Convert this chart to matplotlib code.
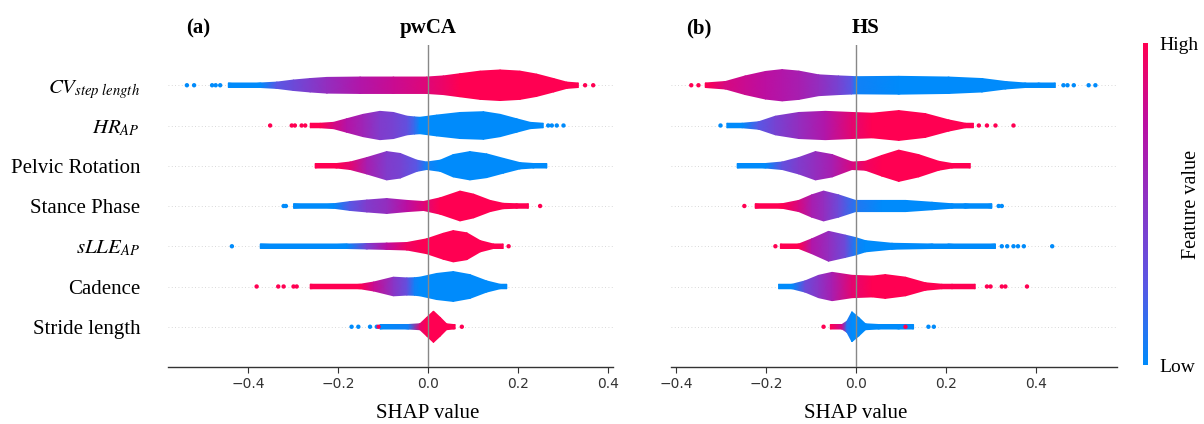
import numpy as np
import matplotlib
matplotlib.use('Agg')
import matplotlib.pyplot as plt
from matplotlib.colors import LinearSegmentedColormap
from matplotlib.transforms import blended_transform_factory

plt.rcParams['mathtext.fontset'] = 'stix'

## Data (features listed top to bottom)

features = [r'$CV_{step\ length}$', r'$HR_{AP}$', 'Pelvic Rotation', 'Stance Phase',
            r'$sLLE_{AP}$', 'Cadence', 'Stride length']

# panel (a) pwCA: violin knots (SHAP value, half width in rows, feature value 0..1)
pwca_x = [
    [-0.444, -0.373, -0.336, -0.299, -0.262, -0.225, -0.151, -0.077, -0.003, 0.034, 0.071, 0.116, 0.160, 0.204, 0.241, 0.279, 0.308, 0.334],
    [-0.262, -0.240, -0.210, -0.181, -0.144, -0.107, -0.077, -0.047, -0.030, -0.018, 0.019, 0.071, 0.123, 0.160, 0.197, 0.227, 0.256],
    [-0.251, -0.203, -0.173, -0.136, -0.092, -0.062, -0.025, -0.003, 0.027, 0.056, 0.093, 0.130, 0.167, 0.204, 0.234, 0.264],
    [-0.299, -0.210, -0.173, -0.136, -0.092, -0.047, -0.010, 0.027, 0.071, 0.101, 0.138, 0.167, 0.197, 0.223],
    [-0.373, -0.181, -0.136, -0.092, -0.047, -0.003, 0.034, 0.056, 0.086, 0.116, 0.145, 0.167],
    [-0.262, -0.151, -0.121, -0.077, -0.047, -0.030, -0.018, 0.019, 0.056, 0.093, 0.130, 0.160, 0.175],
    [-0.107, -0.044, -0.018, -0.003, 0.012, 0.027, 0.041, 0.056, 0.060],
]
pwca_hw = [
    [0.05, 0.05, 0.07, 0.116, 0.149, 0.174, 0.182, 0.182, 0.182, 0.207, 0.256, 0.314, 0.339, 0.314, 0.248, 0.149, 0.07, 0.05],
    [0.05, 0.05, 0.07, 0.149, 0.248, 0.314, 0.289, 0.207, 0.19, 0.182, 0.231, 0.289, 0.306, 0.248, 0.149, 0.07, 0.05],
    [0.05, 0.05, 0.083, 0.182, 0.314, 0.273, 0.124, 0.083, 0.124, 0.248, 0.314, 0.264, 0.165, 0.07, 0.05, 0.05],
    [0.05, 0.05, 0.099, 0.132, 0.165, 0.124, 0.099, 0.182, 0.331, 0.264, 0.124, 0.06, 0.05, 0.05],
    [0.05, 0.05, 0.06, 0.07, 0.083, 0.165, 0.289, 0.347, 0.298, 0.124, 0.05, 0.05],
    [0.05, 0.05, 0.099, 0.207, 0.19, 0.195, 0.207, 0.289, 0.331, 0.264, 0.124, 0.05, 0.05],
    [0.05, 0.05, 0.066, 0.207, 0.347, 0.207, 0.066, 0.05, 0.05],
]
pwca_fv = [
    [0, 0, 0.25, 0.35, 0.45, 0.55, 0.7, 0.8, 0.88, 0.93, 1, 1, 1, 1, 1, 1, 1, 1],
    [1, 1, 0.85, 0.72, 0.6, 0.45, 0.4, 0.3, 0.15, 0, 0, 0, 0, 0, 0, 0, 0],
    [1, 1, 0.9, 0.65, 0.45, 0.4, 0.25, 0.05, 0, 0, 0, 0, 0, 0, 0, 0],
    [0, 0, 0.25, 0.45, 0.55, 0.75, 0.88, 1, 1, 1, 1, 1, 1, 1],
    [0, 0, 0.4, 0.75, 0.95, 1, 1, 1, 1, 1, 1, 1],
    [1, 1, 0.8, 0.5, 0.3, 0.05, 0, 0, 0, 0, 0, 0, 0],
    [0, 0.05, 0.9, 1, 1, 1, 1, 1, 1],
]
pwca_dots_x = [
    [-0.536, -0.52, -0.48, -0.472, -0.462, 0.349, 0.367],
    [-0.351, -0.303, -0.296, -0.281, -0.273, 0.267, 0.275, 0.286, 0.301],
    [],
    [-0.321, -0.316, 0.249],
    [-0.436, 0.179],
    [-0.381, -0.333, -0.321, -0.299, -0.292],
    [-0.17, -0.155, -0.129, -0.114, -0.11, 0.075],
]
pwca_dots_fv = [
    [0, 0, 0, 0, 0, 1, 1],
    [1, 1, 1, 1, 1, 0, 0, 0, 0],
    [],
    [0, 0, 1],
    [0, 1],
    [1, 1, 1, 1, 1],
    [0, 0, 0, 0, 1, 1],
]

# panel (b) HS
hs_x = [
    [-0.335, -0.29, -0.246, -0.201, -0.164, -0.127, -0.083, -0.039, -0.01, 0.0, 0.095, 0.206, 0.28, 0.332, 0.376, 0.406, 0.443],
    [-0.287, -0.253, -0.216, -0.179, -0.127, -0.068, -0.009, 0.036, 0.095, 0.154, 0.206, 0.243, 0.261],
    [-0.264, -0.201, -0.164, -0.127, -0.09, -0.053, -0.009, 0.021, 0.058, 0.095, 0.139, 0.184, 0.213, 0.254],
    [-0.224, -0.164, -0.127, -0.098, -0.072, -0.039, -0.001, 0.058, 0.11, 0.169, 0.213, 0.243, 0.302],
    [-0.168, -0.127, -0.098, -0.061, -0.024, 0.0, 0.021, 0.08, 0.169, 0.206, 0.31],
    [-0.172, -0.142, -0.113, -0.083, -0.053, -0.009, 0.036, 0.065, 0.11, 0.154, 0.191, 0.213, 0.265],
    [-0.057, -0.031, -0.02, -0.009, 0.006, 0.021, 0.05, 0.095, 0.128],
]
hs_hw = [
    [0.05, 0.083, 0.207, 0.306, 0.347, 0.314, 0.231, 0.207, 0.195, 0.19, 0.198, 0.182, 0.149, 0.083, 0.05, 0.05, 0.05],
    [0.05, 0.05, 0.083, 0.207, 0.289, 0.314, 0.289, 0.273, 0.331, 0.264, 0.124, 0.05, 0.05],
    [0.05, 0.05, 0.083, 0.182, 0.314, 0.248, 0.083, 0.099, 0.231, 0.347, 0.248, 0.099, 0.05, 0.05],
    [0.05, 0.05, 0.124, 0.248, 0.331, 0.248, 0.124, 0.124, 0.124, 0.083, 0.05, 0.05, 0.05],
    [0.05, 0.05, 0.165, 0.331, 0.248, 0.19, 0.124, 0.066, 0.05, 0.05, 0.05],
    [0.05, 0.05, 0.124, 0.248, 0.314, 0.248, 0.231, 0.264, 0.207, 0.083, 0.05, 0.05, 0.05],
    [0.05, 0.05, 0.124, 0.331, 0.207, 0.066, 0.05, 0.05, 0.05],
]
hs_fv = [
    [1, 0.85, 0.8, 0.75, 0.7, 0.65, 0.55, 0.4, 0.25, 0.05, 0, 0, 0, 0, 0, 0, 0],
    [0, 0, 0.25, 0.4, 0.55, 0.7, 0.9, 1, 1, 1, 1, 1, 1],
    [0, 0, 0.3, 0.45, 0.55, 0.65, 0.85, 0.95, 1, 1, 1, 1, 1, 1],
    [1, 1, 0.85, 0.65, 0.55, 0.35, 0.1, 0, 0, 0, 0, 0, 0],
    [1, 1, 0.7, 0.55, 0.35, 0.05, 0, 0, 0, 0, 0],
    [0, 0, 0.35, 0.5, 0.65, 0.9, 1, 1, 1, 1, 1, 1, 1],
    [1, 0.8, 0.1, 0, 0, 0, 0, 0, 0],
]
hs_dots_x = [
    [-0.366, -0.35, 0.461, 0.47, 0.484, 0.517, 0.532],
    [-0.301, 0.273, 0.291, 0.31, 0.35],
    [],
    [-0.248, 0.317, 0.324],
    [-0.179, 0.324, 0.336, 0.35, 0.36, 0.373, 0.436],
    [0.291, 0.299, 0.324, 0.332, 0.38],
    [-0.072, 0.11, 0.161, 0.173],
]
hs_dots_fv = [
    [1, 1, 0, 0, 0, 0, 0],
    [0, 1, 1, 1, 1],
    [],
    [1, 0, 0],
    [1, 0, 0, 0, 0, 0, 0],
    [1, 1, 1, 1, 1],
    [1, 1, 0, 0],
]

# shap-like red/blue map
cmap = LinearSegmentedColormap.from_list(
    'shap_rb', ['#008bfb', '#5a57e4', '#8a35c6', '#bb0fa2', '#ff0052'])

serif = 'Liberation Serif'
width_scale = 1.12

fig = plt.figure(figsize=(12.04, 4.24), dpi=100)
ax_a = fig.add_axes([168 / 1204, 57 / 424, 445 / 1204, 322 / 424])
ax_b = fig.add_axes([671 / 1204, 57 / 424, 446 / 1204, 322 / 424])


def draw_panel(ax, xs, hws, fvs, dx, dfv, xlim):
    n = len(xs)
    for i in range(n):
        row = n - 1 - i
        ax.axhline(row, color='#cccccc', lw=0.6, dashes=(1, 3), zorder=0)
        x = np.array(xs[i])
        hw = np.array(hws[i]) * width_scale
        fv = np.array(fvs[i], dtype=float)
        X = np.vstack([x, x])
        Y = np.vstack([row - hw, row + hw])
        C = np.vstack([fv, fv])
        ax.pcolormesh(X, Y, C, shading='gouraud', cmap=cmap, vmin=0, vmax=1,
                      zorder=2, antialiased=True)
        if dx[i]:
            ax.scatter(dx[i], [row] * len(dx[i]), c=dfv[i], cmap=cmap, vmin=0, vmax=1,
                       s=10, linewidths=0, zorder=3)
    ax.axvline(0, color='#888888', lw=1.0, zorder=4)
    ax.set_xlim(*xlim)
    ax.set_ylim(-1, n)
    for s in ['top', 'right', 'left']:
        ax.spines[s].set_visible(False)
    ax.spines['bottom'].set_color('#333333')
    ax.spines['bottom'].set_linewidth(1.0)
    ax.set_xticks([-0.4, -0.2, 0.0, 0.2, 0.4])
    ax.set_xticklabels(['\u22120.4', '\u22120.2', '0.0', '0.2', '0.4'])
    ax.tick_params(axis='x', colors='#333333', labelsize=10, length=4, pad=3)
    ax.tick_params(axis='y', length=0)
    tr = blended_transform_factory(ax.transData, ax.transAxes)
    ax.text(0, -0.145, 'SHAP value', transform=tr, ha='center', va='center',
            family=serif, fontsize=15)


draw_panel(ax_a, pwca_x, pwca_hw, pwca_fv, pwca_dots_x, pwca_dots_fv, (-0.578, 0.411))
draw_panel(ax_b, hs_x, hs_hw, hs_fv, hs_dots_x, hs_dots_fv, (-0.411, 0.58))

ax_a.set_yticks(range(len(features)))
ax_a.set_yticklabels(features[::-1], family=serif, fontsize=15)
ax_a.tick_params(axis='y', pad=20)
ax_b.set_yticks([])

fig.text(198 / 1204, 1 - 28 / 424, '(a)', family=serif, fontsize=15, fontweight='bold',
         ha='center', va='center')
fig.text(428 / 1204, 1 - 28 / 424, 'pwCA', family=serif, fontsize=15, fontweight='bold',
         ha='center', va='center')
fig.text(699 / 1204, 1 - 28 / 424, '(b)', family=serif, fontsize=15, fontweight='bold',
         ha='center', va='center')
fig.text(866 / 1204, 1 - 28 / 424, 'HS', family=serif, fontsize=15, fontweight='bold',
         ha='center', va='center')

# colorbar
cax = fig.add_axes([1143 / 1204, 59 / 424, 5 / 1204, 322 / 424])
sm = matplotlib.cm.ScalarMappable(cmap=cmap, norm=plt.Normalize(0, 1))
cb = fig.colorbar(sm, cax=cax, ticks=[0, 1])
cb.outline.set_visible(False)
cb.ax.tick_params(length=0, pad=8)
cb.ax.set_yticklabels(['Low', 'High'], family=serif, fontsize=14)
cb.set_label('Feature value', family=serif, fontsize=14.5, labelpad=-12)

fig.savefig('out.png', dpi=100)
